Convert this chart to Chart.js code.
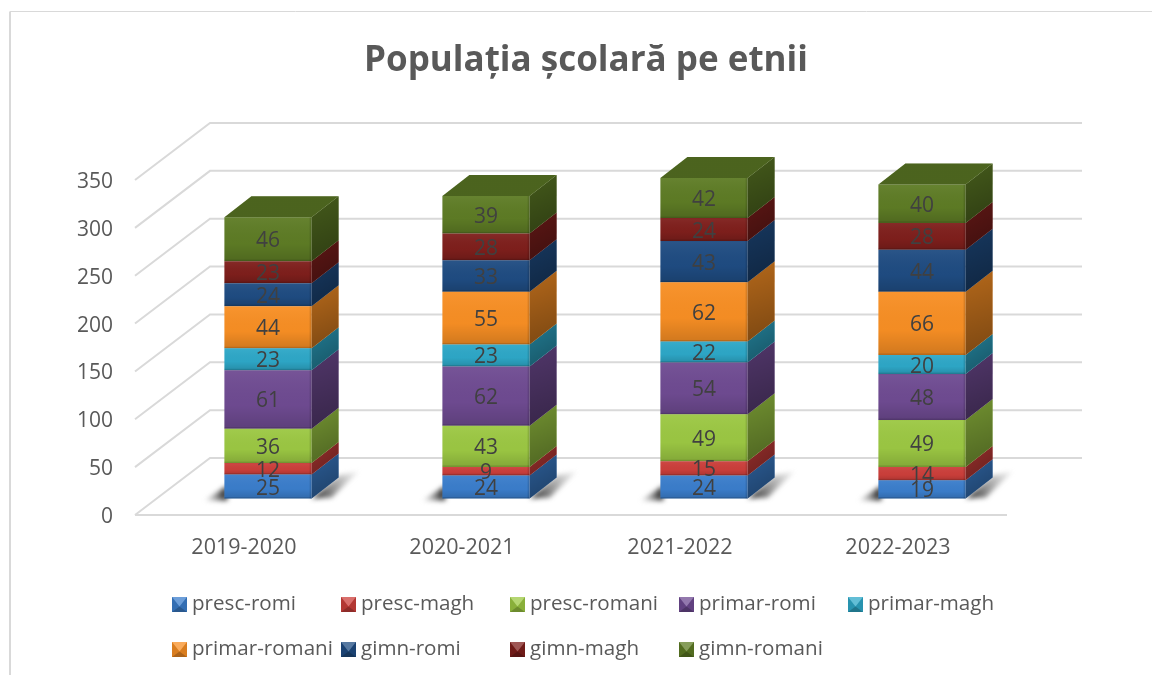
<!DOCTYPE html>
<html>
<head>
<meta charset="utf-8">
<title>Populația școlară pe etnii</title>
<script src="https://cdn.jsdelivr.net/npm/chart.js@4"></script>
<style>
  html, body { margin: 0; padding: 0; background: #fff; }
  canvas { display: block; }
</style>
</head>
<body>
<canvas id="schoolChart" width="1152" height="675"></canvas>
<script>
const years = ["2019-2020", "2020-2021", "2021-2022", "2022-2023"];

const prescRomi = [25, 24, 24, 19];
const prescMagh = [12, 9, 15, 14];
const prescRomani = [36, 43, 49, 49];
const primarRomi = [61, 62, 54, 48];
const primarMagh = [23, 23, 22, 20];
const primarRomani = [44, 55, 62, 66];
const gimnRomi = [24, 33, 43, 44];
const gimnMagh = [23, 28, 24, 28];
const gimnRomani = [46, 39, 42, 40];

const yTicks = [0, 50, 100, 150, 200, 250, 300, 350];

const seriesNames = ["presc-romi", "presc-magh", "presc-romani", "primar-romi", "primar-magh", "primar-romani", "gimn-romi", "gimn-magh", "gimn-romani"];
const seriesValues = [prescRomi, prescMagh, prescRomani, primarRomi, primarMagh, primarRomani, gimnRomi, gimnMagh, gimnRomani];
const seriesColors = ["#3b7ecc", "#cc3f3b", "#9cc843", "#6f4b92", "#2ea8c8", "#f88f24", "#1f4c82", "#7f1f1c", "#5e7c25"];

const fontName = "'Open Sans', sans-serif";
const textColor = "#595959";
const gridColor = "#d9d9d9";

// fake 3D: depth of the walls and of the bars, in pixels
const wallDx = 75, wallDy = 57;
const barDx = 27, barDy = 21;
const barShift = 24;

function shade(ctx, color, darkTop, darkBottom, x0, y0, x1, y1) {
  ctx.fillStyle = color;
  ctx.fill();
  const g = ctx.createLinearGradient(x0, y0, x1, y1);
  g.addColorStop(0, "rgba(0,0,0," + darkTop + ")");
  g.addColorStop(1, "rgba(0,0,0," + darkBottom + ")");
  ctx.fillStyle = g;
  ctx.fill();
}

const poly = (ctx, pts) => {
  ctx.beginPath();
  pts.forEach((p, i) => (i ? ctx.lineTo(p[0], p[1]) : ctx.moveTo(p[0], p[1])));
  ctx.closePath();
};

const box3d = {
  id: "box3d",
  beforeDraw(chart) {
    const ctx = chart.ctx;
    // tick digits sit a bit low in the reference
    chart.scales.y.getLabelItems().forEach((it) => { it.options.translation[1] += 2; });
    ctx.save();
    ctx.strokeStyle = gridColor;
    ctx.lineWidth = 2;
    ctx.beginPath();
    ctx.moveTo(10, 675);
    ctx.lineTo(10, 11.5);
    ctx.stroke();
    ctx.lineWidth = 1;
    ctx.beginPath();
    ctx.moveTo(10, 11.5);
    ctx.lineTo(1152, 11.5);
    ctx.stroke();
    ctx.restore();
  },
  beforeDatasetsDraw(chart) {
    const { ctx, chartArea: a, scales } = chart;
    ctx.save();
    // walls
    ctx.strokeStyle = gridColor;
    ctx.lineWidth = 2;
    ctx.beginPath();
    yTicks.forEach((v) => {
      const y = scales.y.getPixelForValue(v);
      ctx.moveTo(a.left, y);
      ctx.lineTo(a.left + wallDx, y - wallDy);
      ctx.lineTo(a.right + wallDx, y - wallDy);
    });
    ctx.moveTo(a.left, a.bottom);
    ctx.lineTo(a.right, a.bottom);
    ctx.stroke();
    // soft shadow on the floor
    ctx.translate(barShift, 0);
    chart.getDatasetMeta(0).data.forEach((el) => {
      const l = el.x - el.width / 2, r = el.x + el.width / 2, b = el.base;
      ctx.save();
      ctx.filter = "blur(2.5px)";
      let g = ctx.createLinearGradient(l, 0, l - 20, 0);
      g.addColorStop(0, "rgba(40,40,40,0.95)");
      g.addColorStop(1, "rgba(140,140,140,0.15)");
      ctx.fillStyle = g;
      poly(ctx, [[l + 3, b - 13], [l + 3, b + 2], [l - 20, b + 2]]);
      ctx.fill();
      g = ctx.createLinearGradient(r + 6, b, r + barDx + 20, b - barDy);
      g.addColorStop(0, "rgba(40,40,40,0.9)");
      g.addColorStop(1, "rgba(150,150,150,0.2)");
      ctx.fillStyle = g;
      poly(ctx, [[r, b], [r + barDx, b - barDy - 2], [r + barDx + 20, b - barDy - 6], [r + 20, b - 1]]);
      ctx.fill();
      ctx.restore();
    });
  },
  afterDatasetsDraw(chart) {
    const ctx = chart.ctx;
    const last = chart.data.datasets.length - 1;
    chart.data.datasets.forEach((ds, i) => {
      chart.getDatasetMeta(i).data.forEach((el) => {
        const l = el.x - el.width / 2, r = el.x + el.width / 2, t = el.y, b = el.base;
        // front shading with a small bevel
        const g = ctx.createLinearGradient(0, t, 0, b);
        g.addColorStop(0, "rgba(255,255,255,0.05)");
        g.addColorStop(0.6, "rgba(0,0,0,0.02)");
        g.addColorStop(1, "rgba(0,0,0,0.16)");
        ctx.fillStyle = g;
        ctx.fillRect(l, t, r - l, b - t);
        ctx.fillStyle = "rgba(0,0,0,0.12)";
        ctx.fillRect(l, b - 1.5, r - l, 1.5);
        ctx.fillRect(r - 2, t, 2, b - t);
        // right side
        poly(ctx, [[r, t], [r + barDx, t - barDy], [r + barDx, b - barDy], [r, b]]);
        shade(ctx, ds.backgroundColor, 0.28, 0.5, r, t - barDy, r + barDx, b);
        // cap on the last stack only
        if (i === last) {
          poly(ctx, [[l, t], [l + barDx, t - barDy], [r + barDx, t - barDy], [r, t]]);
          shade(ctx, ds.backgroundColor, 0.2, 0.2, 0, t - barDy, 0, t);
        }
      });
    });
    // value labels over everything
    ctx.fillStyle = "#404040";
    ctx.font = "21px " + fontName;
    ctx.textAlign = "center";
    ctx.textBaseline = "middle";
    chart.data.datasets.forEach((ds, i) => {
      chart.getDatasetMeta(i).data.forEach((el, j) => {
        ctx.fillText(ds.data[j], el.x, (el.y + el.base) / 2 + 2);
      });
    });
    ctx.restore();
    drawLegend(chart);
  },
};

function drawLegend(chart) {
  const ctx = chart.ctx;
  const colX = 172, colW = 169, rowY = [604.5, 649.5], size = 15;
  ctx.save();
  ctx.font = "20.6px " + fontName;
  ctx.textAlign = "left";
  ctx.textBaseline = "middle";
  chart.data.datasets.forEach((ds, i) => {
    const x = colX + (i % 5) * colW;
    const y = rowY[Math.floor(i / 5)];
    const t = y - size / 2, b = y + size / 2, r = x + size, cx = x + size / 2;
    ctx.fillStyle = ds.backgroundColor;
    ctx.fillRect(x, t, size, size);
    poly(ctx, [[x, t], [r, t], [cx, y + 2]]);
    ctx.fillStyle = "rgba(255,255,255,0.25)";
    ctx.fill();
    poly(ctx, [[x, b], [r, b], [cx, y + 2]]);
    ctx.fillStyle = "rgba(0,0,0,0.3)";
    ctx.fill();
    ctx.fillStyle = "rgba(0,0,0,0.12)";
    poly(ctx, [[r, t], [r, b], [cx, y + 2]]);
    ctx.fill();
    poly(ctx, [[x, t], [x, b], [cx, y + 2]]);
    ctx.fill();
    ctx.fillStyle = textColor;
    ctx.fillText(ds.label, x + 20, y);
  });
  ctx.restore();
}

new Chart(document.getElementById("schoolChart"), {
  type: "bar",
  data: {
    labels: years,
    datasets: seriesNames.map((name, i) => ({
      label: name,
      data: seriesValues[i],
      backgroundColor: seriesColors[i],
      borderWidth: 0,
      yAxisID: "y2",
      categoryPercentage: 0.4,
      barPercentage: 1,
      clip: false,
    })),
  },
  plugins: [box3d],
  options: {
    responsive: false,
    animation: false,
    devicePixelRatio: 1,
    layout: { padding: { left: 20, right: 0, top: 0, bottom: 0 } },
    plugins: {
      legend: { display: false },
      tooltip: { enabled: false },
      title: {
        display: true,
        text: "Populația școlară pe etnii",
        color: textColor,
        font: { family: fontName, size: 35, weight: "bold", lineHeight: 1.2 },
        padding: { top: 40, bottom: 98 },
      },
    },
    scales: {
      x: {
        stacked: true,
        grid: { display: false },
        border: { display: false },
        ticks: { color: textColor, font: { family: fontName, size: 21.5 }, padding: 12, maxRotation: 0 },
        afterFit: (s) => { s.height = 160; },
      },
      y: {
        position: "left",
        min: 0,
        max: 350,
        grid: { display: false },
        border: { display: false },
        ticks: { stepSize: 50, color: textColor, font: { family: fontName, size: 21 }, padding: 14 },
        afterFit: (s) => { s.width = 115; },
      },
      // same scale as y, lifted to where the bars stand on the floor
      y2: {
        position: "right",
        stacked: true,
        min: -17.2,
        max: 332.8,
        grid: { display: false },
        border: { display: false },
        ticks: { display: false },
        afterFit: (s) => { s.width = 145; },
      },
    },
  },
});
</script>
</body>
</html>
